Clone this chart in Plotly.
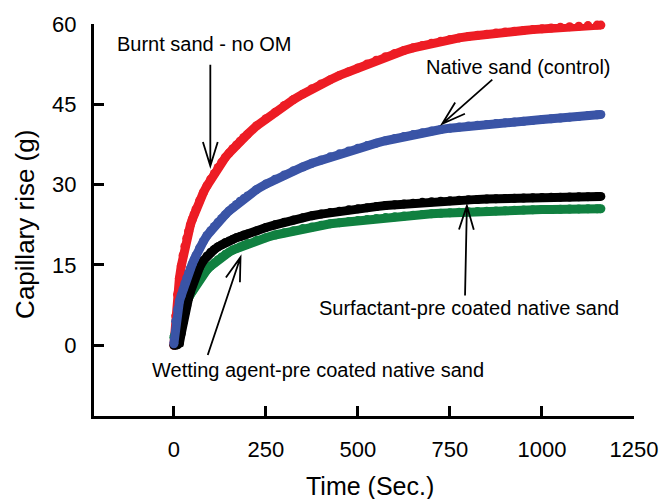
import math
import plotly.graph_objects as go

# ---------------- data ----------------
time_s = [0, 5, 10, 15, 20, 25, 30, 35, 40, 45, 50, 55, 60,
          70, 80, 90, 100, 110, 120, 130, 140, 150, 160, 170, 180, 190, 200,
          225, 250, 275, 300, 325, 350, 375, 400, 425, 450, 475, 500, 525, 550,
          575, 600, 625, 650, 675, 700, 725, 750, 775, 800, 825, 850, 875, 900,
          925, 950, 975, 1000, 1025, 1050, 1075, 1100, 1125, 1150, 1160]

burnt_sand = [0, 5.5, 9.5, 12.5, 14.8, 16.8, 18.5, 20.0, 21.3, 22.5, 23.5, 24.5, 25.4,
              27.0, 28.5, 29.8, 31.0, 32.1, 33.2, 34.2, 35.1, 35.9, 36.7, 37.4, 38.1, 38.8, 39.4,
              41.0, 42.3, 43.5, 44.8, 45.9, 46.9, 47.9, 48.8, 49.6, 50.4, 51.1, 51.8, 52.55, 53.25,
              53.9, 54.5, 55.05, 55.55, 56.0, 56.4, 56.8, 57.1, 57.4, 57.65, 57.9, 58.1, 58.3, 58.5,
              58.65, 58.8, 58.95, 59.1, 59.25, 59.4, 59.5, 59.6, 59.7, 59.8, 59.8]

native_sand = [0.3, 4.5, 6.7, 8.2, 9.3, 10.5, 11.6, 12.6, 13.5, 14.4, 15.2, 16.0, 16.8,
               18.2, 19.4, 20.5, 21.4, 22.2, 23.0, 23.7, 24.4, 25.1, 25.7, 26.3, 26.9, 27.4, 27.9,
               29.1, 30.1, 31.0, 31.8, 32.6, 33.3, 34.0, 34.6, 35.2, 35.75, 36.3, 36.8, 37.3, 37.75,
               38.2, 38.6, 39.0, 39.35, 39.7, 40.0, 40.3, 40.55, 40.75, 40.95, 41.1, 41.25, 41.4, 41.55,
               41.7, 41.85, 42.0, 42.15, 42.3, 42.45, 42.6, 42.75, 42.9, 43.05, 43.1]

surfactant_sand = [0, 0, 0.1, 0.4, 2.2, 4.3, 6.0, 7.4, 8.8, 10.0, 11.2, 12.2, 13.1,
                   14.6, 15.8, 16.7, 17.4, 17.9, 18.4, 18.8, 19.2, 19.5, 19.8, 20.1, 20.3, 20.6, 20.8,
                   21.4, 22.0, 22.5, 23.0, 23.4, 23.8, 24.2, 24.5, 24.8, 25.05, 25.3, 25.5, 25.7, 25.9,
                   26.1, 26.25, 26.4, 26.55, 26.7, 26.8, 26.9, 27.0, 27.1, 27.2, 27.25, 27.3, 27.35, 27.4,
                   27.45, 27.5, 27.55, 27.6, 27.63, 27.66, 27.7, 27.73, 27.76, 27.8, 27.8]

wetting_sand = [1.5, 2.5, 3.8, 5.0, 6.0, 6.8, 7.5, 8.2, 8.9, 9.5, 10.1, 10.7, 11.3,
                12.3, 13.3, 14.1, 14.8, 15.4, 16.0, 16.5, 17.0, 17.4, 17.8, 18.1, 18.4, 18.7, 19.0,
                19.6, 20.1, 20.6, 21.0, 21.4, 21.8, 22.1, 22.4, 22.7, 22.9, 23.1, 23.3, 23.5, 23.7,
                23.85, 24.0, 24.15, 24.3, 24.45, 24.55, 24.65, 24.75, 24.85, 24.95, 25.0, 25.05, 25.1, 25.15,
                25.2, 25.25, 25.3, 25.35, 25.38, 25.41, 25.44, 25.47, 25.5, 25.5, 25.5]

x_ticks = [0, 250, 500, 750, 1000, 1250]
y_ticks = [0, 15, 30, 45, 60]

# labels: (text, x, y) and arrows: (tail x, tail y, head x, head y) in data units
labels = [
    ("Burnt sand - no OM", 84, 56.3),
    ("Native sand (control)", 936, 51.9),
    ("Surfactant-pre coated native sand", 803, 7.0),
    ("Wetting agent-pre coated native sand", 392, -4.7),
]
arrows = [
    (99, 52.4, 99, 33.5),
    (865, 49.6, 729, 41.35),
    (791, 9.3, 796, 26.05),
    (92, -1.8, 181, 16.45),
]

# ---------------- layout constants ----------------
W, H = 670, 499
ML, MR, MT, MB = 94, 29, 22, 83
XR = [-217, 1250]
YR = [-13.2, 60]
FONT = "Liberation Sans, Arial, Helvetica, sans-serif"

pw = W - ML - MR
ph = H - MT - MB


def d2p(x, y):
    px = ML + (x - XR[0]) / (XR[1] - XR[0]) * pw
    py = MT + (YR[1] - y) / (YR[1] - YR[0]) * ph
    return px, py


def p2d(px, py):
    x = XR[0] + (px - ML) / pw * (XR[1] - XR[0])
    y = YR[1] - (py - MT) / ph * (YR[1] - YR[0])
    return x, y


fig = go.Figure()

series = [
    (burnt_sand, "#ED1C24", "Burnt sand - no OM"),
    (wetting_sand, "#108040", "Wetting agent-pre coated native sand"),
    (surfactant_sand, "#000000", "Surfactant-pre coated native sand"),
    (native_sand, "#3A54A6", "Native sand (control)"),
]
for vals, col, name in series:
    fig.add_trace(go.Scatter(
        x=time_s, y=vals, mode="lines+markers", name=name,
        line=dict(color=col, width=9),
        marker=dict(color=col, size=9, line=dict(width=0)),
        cliponaxis=False, showlegend=False, hoverinfo="x+y",
    ))

shapes = []
for tx, ty, hx, hy in arrows:
    tpx, tpy = d2p(tx, ty)
    hpx, hpy = d2p(hx, hy)
    dx, dy = hpx - tpx, hpy - tpy
    L = math.hypot(dx, dy)
    ux, uy = dx / L, dy / L
    nx, ny = -uy, ux
    hl, hw = 24, 7.5
    w1 = p2d(hpx - hl * ux + hw * nx, hpy - hl * uy + hw * ny)
    w2 = p2d(hpx - hl * ux - hw * nx, hpy - hl * uy - hw * ny)
    path = (f"M{tx},{ty} L{hx},{hy} M{w1[0]},{w1[1]} L{hx},{hy} L{w2[0]},{w2[1]}")
    shapes.append(dict(type="path", xref="x", yref="y", path=path,
                       line=dict(color="black", width=1.8)))

annotations = []
for text, x, y in labels:
    annotations.append(dict(text=text, x=x, y=y, xref="x", yref="y",
                            showarrow=False, xanchor="center", yanchor="middle",
                            font=dict(family=FONT, size=20, color="black")))

# axis titles
annotations.append(dict(text="Time (Sec.)", xref="paper", yref="paper",
                        x=(374 - ML) / pw, y=(MT + ph - 486) / ph,
                        showarrow=False, xanchor="center", yanchor="middle",
                        font=dict(family=FONT, size=25, color="black")))
annotations.append(dict(text="Capillary rise (g)", xref="paper", yref="paper",
                        x=(24 - ML) / pw, y=(MT + ph - 223) / ph, textangle=-90,
                        showarrow=False, xanchor="center", yanchor="middle",
                        font=dict(family=FONT, size=26, color="black")))

axis_common = dict(showline=True, linecolor="black", linewidth=3,
                   ticks="inside", ticklen=10, tickwidth=3, tickcolor="black",
                   showgrid=False, zeroline=False,
                   tickfont=dict(family=FONT, size=22, color="black"))

fig.update_layout(
    width=W, height=H,
    margin=dict(l=ML, r=MR, t=MT, b=MB, pad=0),
    paper_bgcolor="white", plot_bgcolor="white",
    xaxis=dict(range=XR, tickvals=x_ticks, ticktext=[str(v) for v in x_ticks],
               ticklabelstandoff=12, **axis_common),
    yaxis=dict(range=YR, tickvals=y_ticks, ticktext=[str(v) for v in y_ticks],
               ticklabelstandoff=10, **axis_common),
    shapes=shapes, annotations=annotations, showlegend=False,
)

fig.write_html("out.html", config={"displayModeBar": False},
               post_script="document.body.style.margin='0';document.body.style.padding='0';")
